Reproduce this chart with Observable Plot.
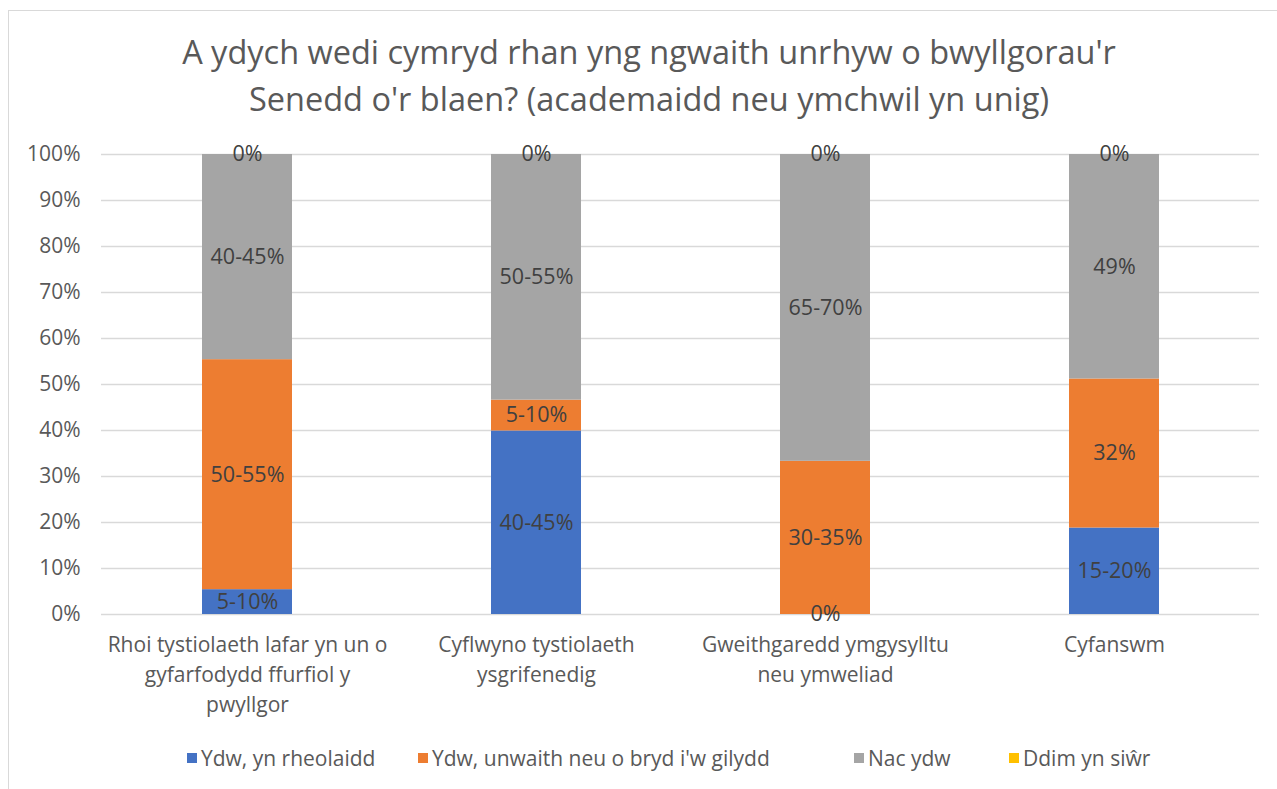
<!DOCTYPE html>
<html><head><meta charset="utf-8">
<script src="https://cdn.jsdelivr.net/npm/d3@7"></script>
<script src="https://cdn.jsdelivr.net/npm/@observablehq/plot@0.6"></script>
<style>
body{margin:0;background:#fff;font-family:"Open Sans",sans-serif;}
#wrap{position:relative;width:1277px;height:789px;overflow:hidden;background:#fff;}
#frame{position:absolute;left:8px;top:10px;width:1400px;height:900px;border-top:1.5px solid #d9d9d9;border-left:1.5px solid #d9d9d9;}
#title{position:absolute;left:0;width:1298px;top:28px;text-align:center;font-size:32.5px;line-height:47px;color:#595959;}
#plot{position:absolute;left:0;top:140px;}
#legend{position:absolute;left:0;top:745px;width:1277px;height:26px;}
.item{position:absolute;top:0;display:flex;align-items:center;height:26px;font-size:21px;color:#595959;white-space:nowrap;}
.sw{width:10px;height:10px;margin-right:4px;}
</style></head>
<body>
<div id="wrap">
  <div id="frame"></div>
  <div id="title">A ydych wedi cymryd rhan yng ngwaith unrhyw o bwyllgorau'r<br>Senedd o'r blaen? (academaidd neu ymchwil yn unig)</div>
  <div id="plot"></div>
  <div id="legend"></div>
</div>
<script>
// ---- data ----
const categories = [
  "Rhoi tystiolaeth lafar yn un o\ngyfarfodydd ffurfiol y\npwyllgor",
  "Cyflwyno tystiolaeth\nysgrifenedig",
  "Gweithgaredd ymgysylltu\nneu ymweliad",
  "Cyfanswm"
];
const seriesNames = ["Ydw, yn rheolaidd", "Ydw, unwaith neu o bryd i'w gilydd", "Nac ydw", "Ddim yn siŵr"];
const seriesColors = ["#4472C4", "#ED7D31", "#A5A5A5", "#FFC000"];
const regularValues = [5.4, 39.9, 0, 18.8];
const occasionalValues = [50.0, 6.7, 33.3, 32.4];
const noValues = [44.6, 53.4, 66.7, 48.8];
const unsureValues = [0, 0, 0, 0];
const regularLabels = ["5-10%", "40-45%", "0%", "15-20%"];
const occasionalLabels = ["50-55%", "5-10%", "30-35%", "32%"];
const noLabels = ["40-45%", "50-55%", "65-70%", "49%"];
const unsureLabels = ["0%", "0%", "0%", "0%"];
const yTicks = [0, 10, 20, 30, 40, 50, 60, 70, 80, 90, 100];

const valueSets = [regularValues, occasionalValues, noValues, unsureValues];
const labelSets = [regularLabels, occasionalLabels, noLabels, unsureLabels];
const rows = [];
seriesNames.forEach((s, si) => {
  categories.forEach((c, ci) => {
    rows.push({category: c, series: s, value: valueSets[si][ci], label: labelSets[si][ci]});
  });
});

const chart = Plot.plot({
  width: 1277,
  height: 580,
  marginLeft: 101,
  marginRight: 18,
  marginTop: 14,
  marginBottom: 106,
  style: {fontFamily: '"Open Sans", sans-serif', overflow: "visible", background: "transparent"},
  x: {domain: categories, paddingInner: 0.69, paddingOuter: 0.345, label: null},
  y: {domain: [0, 100], label: null},
  color: {domain: seriesNames, range: seriesColors},
  marks: [
    Plot.gridY(yTicks, {stroke: "#d9d9d9", strokeOpacity: 1, strokeWidth: 1.5}),
    Plot.axisY(yTicks, {tickSize: 0, tickPadding: 21, tickFormat: d => d + "%", fontSize: 21, fill: "#595959", label: null}),
    Plot.axisX({tickSize: 0, tickPadding: 16, fontSize: 21, fill: "#595959", lineHeight: 1.43, label: null}),
    Plot.barY(rows, Plot.stackY({x: "category", y: "value", fill: "series", order: null})),
    Plot.text(rows, Plot.stackY({x: "category", y: "value", z: "series", text: "label", order: null, fill: "#404040", fontSize: 21.5}))
  ]
});
document.getElementById("plot").appendChild(chart);

const legendX = [187, 418, 854, 1009];
const legend = document.getElementById("legend");
seriesNames.forEach((s, i) => {
  const it = document.createElement("div");
  it.className = "item";
  it.style.left = legendX[i] + "px";
  const sw = document.createElement("span");
  sw.className = "sw";
  sw.style.background = seriesColors[i];
  it.appendChild(sw);
  it.appendChild(document.createTextNode(s));
  legend.appendChild(it);
});
</script>
</body></html>
